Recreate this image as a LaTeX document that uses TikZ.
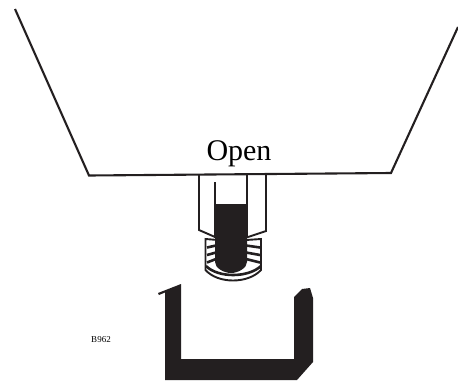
\documentclass[tikz,border=0pt]{standalone}
\usepackage{fontspec}
\setmainfont{Liberation Serif}
\usepackage{tikz}
\usepackage{xcolor}
\definecolor{inkdark}{HTML}{231F20}
\tikzset{
  outline/.style={draw=inkdark, line width=2.1pt},
  thinline/.style={draw=inkdark, line width=1.9pt},
  threadline/.style={draw=inkdark, line width=2.6pt},
  solidpart/.style={fill=inkdark}
}
\begin{document}
\begin{tikzpicture}[x=1pt,y=-1pt]
\useasboundingbox (0,0) rectangle (458,381);

% hopper
\draw[outline] (15,9) -- (89,175.5) -- (391,173) -- (458,27);
\node[anchor=base, inner sep=0pt] (openlabel) at (239,160) {\fontsize{30}{34}\selectfont Open};

% nozzle
\draw[thinline] (199,175) -- (199,230) -- (215,237);
\draw[thinline] (266,174) -- (266,231) -- (248,237);
\draw[thinline] (247,174) -- (247,238);
\draw[thinline] (215,182) -- (215,238);

% threads
\draw[thinline] (218,240) -- (205.5,239) -- (205.5,270) .. controls (218,284) and (248,284) .. (261,270) -- (261,239) -- (246,240);
\draw[threadline] (207,247.5) -- (216,245.5);
\draw[threadline] (207,255) -- (216,252.5);
\draw[threadline] (207,262.5) -- (216,259);
\draw[threadline] (260,247.5) -- (246,245.5);
\draw[threadline] (260,255) -- (246,252.5);
\draw[threadline] (260,262.5) -- (246,259);
\draw[threadline] (206,266) .. controls (218,278) and (248,278) .. (261,266);

% plug of material
\fill[solidpart] (215,204) -- (247,204) -- (247,262)
  .. controls (247,268) and (238,273) .. (231,273)
  .. controls (224,273) and (215,268) .. (215,262) -- cycle;

% cup below
\fill[solidpart] (158,293) -- (181,284) -- (181,359) -- (294,359) -- (294,297)
  -- (302,289) -- (310,288) -- (313,298) -- (313,362) -- (297,380) -- (165,380)
  -- (165,292.5) -- (159,295) -- cycle;

\node[inner sep=0pt] (partcode) at (101,340) {\fontsize{9}{10}\selectfont B962};
\end{tikzpicture}
\end{document}
